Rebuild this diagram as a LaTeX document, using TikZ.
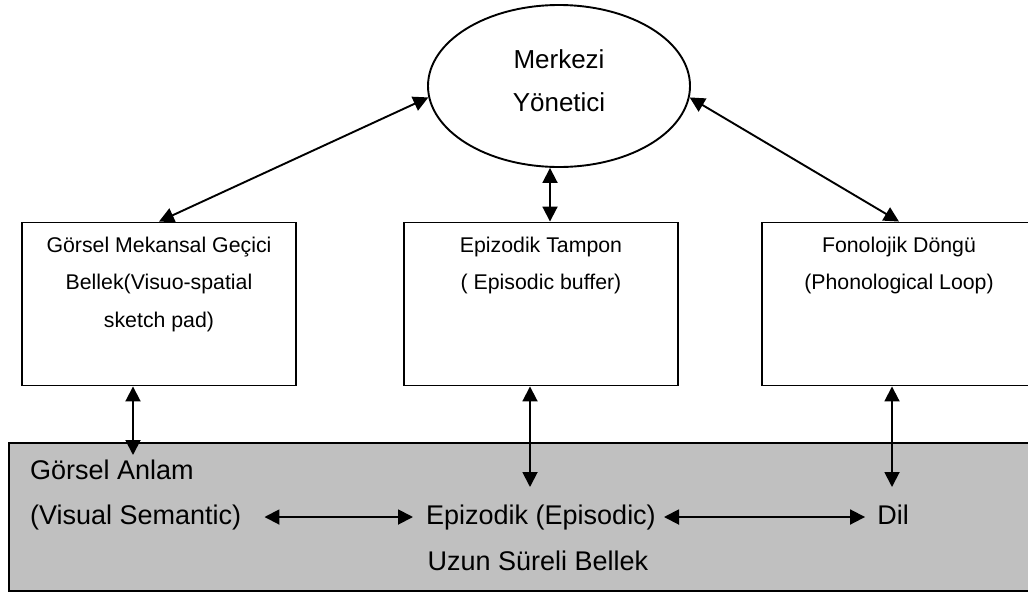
\documentclass[tikz,border=0pt]{standalone}
\usepackage{fontspec}
\setmainfont{Liberation Sans}
\usetikzlibrary{arrows.meta,shapes.geometric}
\definecolor{ltmfill}{RGB}{192,192,192}
\tikzset{
  frame/.style={draw=black, line width=1.9pt},
  modbox/.style={frame, rectangle, minimum width=274pt, minimum height=163pt, inner sep=0pt},
  link/.style={line width=1.9pt, {Triangle[length=15pt,width=15pt]}-{Triangle[length=15pt,width=15pt]}},
  boxtext/.style={font=\fontsize{21.3}{37.5}\selectfont, align=center, inner sep=0pt, anchor=north},
  ltmtext/.style={font=\fontsize{27}{45}\selectfont, inner sep=0pt},
}
\begin{document}
\begin{tikzpicture}[x=1pt,y=-1pt]
\clip (0,0) rectangle (1028,592);
\fill[white] (0,0) rectangle (1028,592);

% long-term memory band
\node[frame, fill=ltmfill, rectangle, minimum width=1041pt, minimum height=148pt, inner sep=0pt] (ltm) at (529.5,517) {};

% working memory components
\node[modbox] (gm) at (159,304) {};
\node[modbox] (ep) at (541,304) {};
\node[modbox] (fd) at (899,304) {};
\node[frame, ellipse, minimum width=262pt, minimum height=162pt, inner sep=0pt] (mk) at (559,86) {};

% labels
\node[boxtext, font=\fontsize{26}{43}\selectfont] (mkT) at ([yshift=-45pt]mk.north) {Merkezi\\Yönetici};
\node[boxtext] (gmT) at ([yshift=-15pt]gm.north) {Görsel Mekansal Geçici\\Bellek(Visuo-spatial\\sketch pad)};
\node[boxtext] (epT) at ([yshift=-15pt]ep.north) {Epizodik Tampon\\( Episodic buffer)};
\node[boxtext] (fdT) at ([yshift=-15pt]fd.north) {Fonolojik Döngü\\(Phonological Loop)};

\node[ltmtext, anchor=base west] (ga) at (30,479) {Görsel Anlam};
\node[ltmtext, anchor=base west] (vs) at (30,524) {(Visual Semantic)};
\node[ltmtext, anchor=base] (epz) at (541,524) {Epizodik (Episodic)};
\node[ltmtext, anchor=base] (dil) at (893,524) {Dil};
\node[ltmtext, anchor=base] (uzun) at (538,570) {Uzun Süreli Bellek};

% free ends inside the long-term memory band
\coordinate (gaIn) at (133,455);
\coordinate (epIn) at (530,487);
\coordinate (dilIn) at (892,487);

% central executive links
\draw[link] (gm.north) -- (mk.185);
\draw[link] ([xshift=9pt]ep.north) -- ([xshift=9pt]ep.north |- mk.south);
\draw[link] (fd.north) -- (mk.-5);

% links to long-term memory
\draw[link] (gaIn |- gm.south) -- (gaIn);
\draw[link] (epIn |- ep.south) -- (epIn);
\draw[link] (dilIn |- fd.south) -- (dilIn);

% links within long-term memory
\draw[link] ([shift={(23,-7)}]vs.base east) -- ([shift={(-13,-7)}]epz.base west);
\draw[link] ([shift={(8,-7)}]epz.base east) -- ([shift={(-12,-7)}]dil.base west);
\end{tikzpicture}
\end{document}
